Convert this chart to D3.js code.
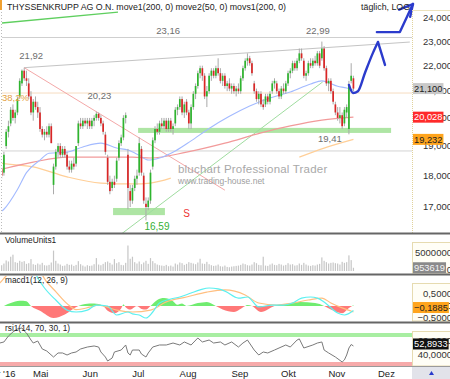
<!DOCTYPE html>
<html><head><meta charset="utf-8">
<script src="https://cdn.jsdelivr.net/npm/d3@7/dist/d3.min.js"></script>
<style>html,body{margin:0;padding:0;background:#fff;overflow:hidden}svg{display:block}</style>
</head><body><svg id="chart" width="450" height="379"></svg>
<script>
// ---------------- DATA ----------------
const title = "THYSSENKRUPP AG O.N. move1(200, 0) move2(50, 0) movs1(200, 0)";
const periodLabel = "täglich, LOG";
const monthNames = ["Apr '16","Mai","Jun","Jul","Aug","Sep","Okt","Nov","Dez"];
const priceTicks = [17,18,19,20,21,22,23,24];
const volumeTicks = [0,5];          // millions
const macdTicks = [-0.5,0,0.5];
const rsiTicks = [40,60];
const rsiLevels = [70,30];

// daily candles, first trading day 2016-04-04
const opens = [18.6,18.3,18.0,18.2,18.1,19.0,19.5,19.8,20.3,20.0,
20.2,20.8,21.3,21.8,21.5,21.3,20.8,20.2,20.6,20.4,
20.2,19.6,19.4,19.5,19.4,19.7,17.7,18.3,18.8,19.0,
18.7,18.9,18.7,18.3,18.2,18.4,18.4,19.1,19.8,19.7,
19.9,19.8,19.9,19.7,19.9,20.0,20.15,20.0,19.8,19.4,
18.6,17.8,17.6,17.8,17.9,18.6,19.1,19.3,20.0,18.7,
17.5,17.2,17.6,17.9,18.1,18.9,18.0,17.1,17.0,17.2,
18.3,19.2,19.6,19.5,19.8,19.7,19.9,19.6,19.9,19.6,
19.8,20.3,20.4,20.7,20.2,20.6,20.2,19.8,20.4,20.9,
21.2,21.7,21.9,21.6,20.8,21.0,21.6,21.8,21.6,21.9,
21.7,21.4,21.6,21.2,21.3,21.1,21.2,21.0,21.1,21.0,
21.5,21.9,22.2,22.3,22.1,21.3,21.0,20.7,20.9,20.5,
20.5,20.8,20.6,21.0,21.3,21.3,21.0,20.8,21.1,21.0,
21.3,21.7,21.8,22.1,21.9,22.2,22.5,22.2,21.6,21.7,
22.1,22.0,22.2,22.1,22.5,22.3,22.7,21.9,21.3,21.4,
21.0,20.5,20.2,20.0,20.1,19.8,20.2,19.6,21.4,21.5];
const highs = [18.8,18.4,18.3,18.3,18.8,19.6,19.9,20.4,20.5,20.3,
20.8,21.5,21.85,21.92,21.8,21.5,21.0,20.7,20.8,20.6,
20.4,19.7,19.6,19.7,19.8,19.8,18.4,18.9,19.1,19.1,
19.0,19.0,18.8,18.5,18.5,18.6,19.0,19.9,20.0,20.0,
20.0,20.0,20.0,20.0,20.1,20.23,20.2,20.1,19.9,19.5,
18.7,18.0,17.9,18.0,18.6,19.2,19.4,20.1,20.2,18.9,
17.7,17.7,18.0,18.2,19.3,19.0,18.1,17.3,17.3,18.2,
19.3,19.7,19.8,19.9,20.0,20.0,20.0,20.0,20.0,19.8,
20.4,20.5,20.8,20.8,20.6,20.7,20.3,20.5,21.0,21.3,
21.8,22.0,22.0,21.7,21.2,21.7,21.9,21.9,22.0,22.3,
21.9,21.7,21.7,21.4,21.5,21.3,21.3,21.2,21.3,21.6,
22.0,22.3,22.5,22.4,22.2,21.4,21.1,21.0,21.0,20.7,
20.9,20.9,21.0,21.4,21.5,21.4,21.1,21.2,21.3,21.4,
21.8,21.9,22.2,22.2,22.3,22.7,22.7,22.3,21.8,22.2,
22.3,22.3,22.4,22.6,22.6,22.99,22.8,22.0,21.5,21.5,
21.1,20.6,20.4,20.4,20.2,20.4,20.5,21.4,22.1,21.6];
const lows = [18.3,17.9,17.9,17.9,18.0,18.9,19.3,19.7,19.9,19.8,
20.1,20.7,21.2,21.4,21.2,20.7,20.1,19.9,20.3,20.0,
19.5,19.3,19.2,19.3,19.3,19.1,17.4,18.2,18.6,18.6,
18.6,18.6,18.2,18.1,18.1,18.2,18.3,19.0,19.6,19.6,
19.7,19.6,19.6,19.6,19.7,19.9,19.9,19.7,19.4,18.7,
17.7,17.4,17.5,17.6,17.8,18.5,19.0,19.2,19.8,16.93,
17.0,17.1,17.5,17.7,18.0,18.0,17.1,16.59,16.9,17.1,
18.2,19.1,19.4,19.4,19.6,19.6,19.5,19.5,19.5,19.4,
19.7,20.1,20.3,20.1,20.0,20.1,19.6,19.6,20.3,20.7,
21.1,21.5,21.4,20.7,20.4,20.9,21.4,21.5,21.5,21.6,
21.3,21.2,21.1,21.0,21.0,20.9,20.9,20.8,20.9,20.9,
21.4,21.8,22.0,22.0,21.6,20.9,20.6,20.5,20.4,20.3,
20.4,20.5,20.5,20.9,21.1,20.9,20.7,20.7,20.9,20.9,
21.2,21.5,21.7,21.8,21.8,22.1,22.2,21.5,21.4,21.6,
21.9,21.9,22.0,22.0,21.9,22.2,21.8,21.2,21.0,20.9,
20.5,20.1,19.9,19.8,19.6,19.7,20.0,19.41,21.3,21.0];
const closes = [18.4,18.0,18.2,18.0,18.7,19.5,19.7,20.3,20.0,20.2,
20.7,21.4,21.8,21.5,21.4,20.8,20.2,20.6,20.4,20.2,
19.6,19.4,19.5,19.4,19.7,19.1,18.3,18.8,19.0,18.7,
18.9,18.7,18.3,18.2,18.4,18.3,19.0,19.8,19.7,19.9,
19.8,19.9,19.7,19.9,20.0,20.15,20.0,19.8,19.5,18.8,
17.8,17.5,17.8,17.7,18.5,19.1,19.3,20.0,20.1,17.6,
17.2,17.6,17.9,18.0,19.1,18.1,17.2,17.0,17.2,18.1,
19.2,19.6,19.5,19.8,19.7,19.9,19.6,19.9,19.6,19.7,
20.3,20.4,20.7,20.2,20.5,20.2,19.8,20.4,20.9,21.2,
21.7,21.9,21.6,20.8,21.0,21.6,21.8,21.6,21.9,21.7,
21.4,21.6,21.2,21.3,21.1,21.2,21.0,21.1,21.0,21.5,
21.9,22.2,22.3,22.1,21.7,21.0,20.7,20.9,20.5,20.4,
20.8,20.6,20.9,21.3,21.4,21.0,20.8,21.1,21.0,21.3,
21.7,21.8,22.1,21.9,22.2,22.5,22.3,21.6,21.7,22.1,
22.0,22.2,22.1,22.5,22.0,22.7,21.9,21.3,21.4,21.0,
20.6,20.2,20.0,20.1,19.7,20.3,20.4,21.25,21.6,21.1];
// volume in millions of shares
const volumes = [2.0,1.6,1.4,1.7,2.2,3.1,2.8,4.2,4.8,2.6,
2.4,3.0,2.7,2.9,2.1,2.3,3.5,2.0,1.8,2.2,
1.9,2.4,1.7,1.6,1.8,2.5,6.0,3.0,2.2,1.9,
1.5,1.6,2.1,1.8,1.9,1.5,1.8,2.9,2.0,1.6,
1.3,1.7,1.5,1.6,2.0,3.8,1.9,1.7,2.1,2.6,
2.8,2.4,1.9,3.5,2.3,2.6,1.8,1.7,2.4,7.5,
3.6,4.2,2.6,2.2,2.8,2.0,2.5,3.0,2.1,3.8,
2.9,2.3,1.9,1.7,1.6,1.5,1.8,1.4,1.6,1.3,
2.2,1.9,2.5,2.3,1.8,2.1,2.6,2.4,2.2,2.0,
2.5,3.6,2.2,2.1,2.7,2.0,1.7,1.5,1.6,1.9,
1.4,1.3,1.6,1.2,1.1,1.3,1.4,1.5,1.6,1.8,
2.2,2.0,1.7,1.6,1.9,2.6,2.3,1.8,1.7,4.2,
1.6,1.5,1.9,2.2,1.8,1.7,2.1,1.9,1.6,1.8,
2.3,1.9,2.0,1.6,1.7,2.2,1.8,2.4,1.9,1.6,
1.5,1.7,1.6,1.9,2.1,4.0,3.0,2.6,2.2,2.4,
2.5,2.3,2.2,1.9,2.7,2.4,2.6,4.6,3.2,0.953619];

// moving averages [trading-day index, price]
const ma50 = [[0,16.75],[4,16.93],[10,17.55],[14,18.1],[20,18.52],[24,18.75],[32,18.79],[39,18.97],[47,19.1],[54,18.93],[59,18.86],[64,18.68],[68,18.52],[73,18.59],[80,18.83],[87,19.18],[95,19.62],[104,20.06],[113,20.44],[122,20.74],[131,20.97],[140,21.28],[145,21.4],[152,21.19],[156,21.12],[159,21.04]];
const ma200 = [[0,18.15],[2,18.19],[17,18.45],[32,18.62],[47,18.62],[61,18.62],[69,18.59],[85,18.79],[102,19.1],[118,19.46],[131,19.71],[145,19.92],[159,20.028]];
const movs200 = [[0,18.45],[2,18.42],[17,18.29],[32,17.96],[47,17.76],[61,17.73],[69,17.76],[78,17.92],[79,null],[134,null],[135,18.62],[146,18.93],[159,19.232]];

// indicators [trading-day index, value]
const macdLine = [[0,1.3],[4,1.45],[9,1.6],[13,1.75],[17,1.55],[19,1.17],[22,0.75],[27,0.25],[32,-0.17],[36,-0.25],[41,-0.17],[45,0.04],[50,0],[54,-0.375],[59,-0.25],[61,-0.33],[64,-0.375],[67,-0.5],[70,-0.25],[73,0.125],[78,0.29],[82,0.375],[87,0.54],[91,0.67],[95,0.75],[99,0.71],[102,0.62],[108,0.33],[112,0.375],[117,-0.04],[123,0.04],[128,0.04],[132,0.125],[136,0.33],[140,0.375],[143,0.33],[146,0.17],[152,-0.29],[155,-0.375],[159,-0.1885]];
const signalLine = [[0,0.85],[2,0.95],[5,1.25],[13,1.55],[19,1.5],[23,1.0],[27,0.6],[32,0.1],[36,-0.15],[42,-0.05],[46,0.04],[54,-0.17],[61,-0.25],[69,-0.17],[76,0.17],[85,0.375],[94,0.58],[102,0.67],[111,0.46],[117,0.125],[125,0.04],[132,0.125],[139,0.25],[145,0.33],[149,0.125],[154,-0.08],[159,-0.25]];
const macdHist = [[4,0],[7,0.12],[11,0.22],[14,0.2],[16,0],[20,-0.2],[26,-0.5],[31,-0.35],[37,0],[40,0.08],[44,0.1],[48,0],[50,-0.2],[53,-0.3],[56,-0.1],[57,0.06],[58,-0.05],[60,-0.15],[63,0],[65,-0.12],[67,-0.15],[69,0],[72,0.25],[75,0.33],[79,0.2],[81,0.05],[83,0.1],[85,0],[90,0.12],[94,0.17],[98,0],[101,-0.15],[106,-0.25],[111,0],[112,0.04],[114,0],[118,-0.25],[124,0],[129,0.08],[135,0.17],[142,0.12],[146,0],[149,-0.15],[154,-0.3],[157,-0.08],[159,0.03]];
const rsiLine = [[0,55],[2,57],[4,58.6],[6,67.1],[8,72.9],[10,77.1],[12,78.6],[13,74.3],[14,71.4],[16,61.4],[17,57.1],[19,60],[21,48.6],[23,45.7],[26,37.1],[28,42.9],[30,42.9],[32,40],[34,42.9],[36,44.3],[38,48.6],[41,51.4],[44,52.9],[46,51.4],[47,44.3],[49,37.1],[50,31.4],[52,35.7],[53,44.3],[56,47.1],[58,54.3],[59,42.9],[60,40],[61,47.1],[64,47.1],[65,41.4],[67,37.1],[68,42.9],[70,51.4],[73,54.3],[76,54.3],[79,57.1],[82,54.3],[84,58.6],[87,54.3],[90,64.3],[92,58.6],[95,61.4],[97,57.1],[100,58.6],[102,54.3],[105,58.6],[108,51.4],[110,57.1],[112,61.4],[115,47.1],[117,40],[119,44.3],[121,42.9],[124,47.1],[126,50],[129,54.3],[131,51.4],[134,61.4],[135,63],[137,50],[141,54.3],[143,57.1],[145,58.6],[146,47.1],[148,42.9],[151,37.1],[154,30],[155,33],[156,40],[157,50],[158,55],[159,52.8933]];

// drawing annotations [trading-day index, price]
const resistanceLevel = 23.16;
const fibLevel = 20.93;
const fibLabel = "38,2%";
const lowerLevel = 18.83;
const upperTrend = [[13,21.92],[184,22.97]];
const downTrend = [[13,21.92],[102,17.53]];
const upTrend = [[52.4,16.0],[145.4,21.36]];
const topTrend = [[3.1,23.78],[54.6,24.26]];
const supportZone = [[63.5,19.46],[175.7,19.64]];
const lowZone = [[52.4,16.75],[75.4,16.97]];
const sellSignal = [[85,16.8]];
const forecastCurve = [[157,21.24],[158.8,20.93],[161,21.0],[164.1,21.71],[167.7,22.53],[169.9,22.97]];
const forecastDrop = [[169.9,22.97],[173,22.03]];
const forecastArrow = [[169.4,23.39],[179.6,23.39],[185.4,24.62]];

// ---------------- DRAWING ----------------
const svg = d3.select("#chart").attr("font-family","'Liberation Sans', Arial, sans-serif");
const PR = 412;
const fmtC = (v,d) => d3.format("."+d+"f")(v).replace(".",",");

const x = d3.scaleLinear().domain([20,173]).range([40,385]);
const y = d3.scaleLog().domain([17,24]).range([207,18]);
const yV = d3.scaleLinear().domain([0,5]).range([271,254]);
const yM = d3.scaleLinear().domain([-0.5,0.5]).range([318,294]);
const yR = d3.scaleLinear().domain([30,70]).range([362,334]);

const defs = svg.append("defs");
function clip(id,x0,y0,x1,y1){defs.append("clipPath").attr("id",id).append("rect").attr("x",x0).attr("y",y0).attr("width",x1-x0).attr("height",y1-y0);return "url(#"+id+")";}
const cMain = clip("cm",2,0,PR,233);
const cVol = clip("cv",0,235,PR,273);
const cMacd = clip("cd",0,276,PR,321);
const cMacdPos = clip("cdp",0,276,PR,yM(0));
const cMacdNeg = clip("cdn",0,yM(0),PR,321);
const cRsi = clip("cr",0,324,PR,366);

// trading dates -> month starts
const days = [];
for (let d = new Date(2016,2,28), i=-5; d <= new Date(2016,11,31); d.setDate(d.getDate()+1)) {
  const wd = d.getDay(); if (wd===0||wd===6) continue;
  days.push({i:i, m:d.getMonth()}); i++;
}
const monthStarts = [];
days.forEach((d,k)=>{ if (k>0 && d.m!==days[k-1].m) monthStarts.push(d); });
const monthTicks = monthStarts.filter(d=>d.m>=3 && d.m<=11).map((d,k)=>({i:d.i, t:monthNames[k]}));

// ---- main panel ----
const gM = svg.append("g").attr("clip-path",cMain);
svg.append("line").attr("x1",1.5).attr("x2",1.5).attr("y1",12).attr("y2",233).attr("stroke","#bbb").attr("stroke-dasharray","1,2");
[[supportZone,"#aee5a4"],[lowZone,"#aee5a4"]].forEach(([z,c])=>{
  gM.append("rect").attr("x",x(z[0][0])).attr("width",x(z[1][0])-x(z[0][0]))
    .attr("y",y(z[1][1])).attr("height",y(z[0][1])-y(z[1][1])).attr("fill",c);
});
[[resistanceLevel,"#cfcfcf"],[fibLevel,"#f6dcc0"],[lowerLevel,"#d4d4d4"]].forEach(([v,c])=>{
  gM.append("line").attr("x1",0).attr("x2",PR).attr("y1",y(v)).attr("y2",y(v)).attr("stroke",c).attr("stroke-width",1);
});
const lineP = d3.line().x(d=>x(d[0])).y(d=>y(d[1]));
[[upperTrend,"#c4c4c4",1],[downTrend,"#f4a8a8",1],[upTrend,"#9fdc9f",1],[topTrend,"#5fcf5f",1.4]].forEach(([p,c,w])=>{
  gM.append("path").attr("d",lineP(p)).attr("fill","none").attr("stroke",c).attr("stroke-width",w);
});
const maLine = d3.line().defined(d=>d[1]!=null).x(d=>x(d[0])).y(d=>y(d[1])).curve(d3.curveMonotoneX);
[[movs200,"#ffcf98",1.2],[ma200,"#f29a9a",1.2],[ma50,"#a3baff",1.1]].forEach(([p,c,w])=>{
  gM.append("path").attr("d",maLine(p)).attr("fill","none").attr("stroke",c).attr("stroke-width",w);
});
// watermark
svg.append("text").attr("x",178).attr("y",173).attr("font-size",11.5).attr("fill","#a9a9a9").attr("letter-spacing",0.2).text("bluchart Professional Trader");
svg.append("text").attr("x",178).attr("y",184).attr("font-size",8.5).attr("fill","#a0a0a0").text("www.trading-house.net");
// candles
const cg = gM.append("g");
closes.forEach((c,i)=>{
  const o=opens[i], h=highs[i], l=lows[i], cx=x(i);
  cg.append("line").attr("x1",cx).attr("x2",cx).attr("y1",y(h)).attr("y2",y(l)).attr("stroke","#aaa").attr("stroke-width",1);
  const top=y(Math.max(o,c)), bot=y(Math.min(o,c));
  cg.append("rect").attr("x",cx-0.85).attr("width",1.7).attr("y",top).attr("height",Math.max(1,bot-top))
    .attr("fill", c>=o ? "#2fb52f" : "#d92626");
});
// price labels
function lab(t,xx,yy,c,fs,anchor){svg.append("text").attr("x",xx).attr("y",yy).attr("font-size",fs||9.5).attr("fill",c||"#6e6e6e").attr("text-anchor",anchor||"middle").text(t);}
lab(fmtC(highs[13],2), x(13)+7, y(highs[13])-9);
lab(fmtC(highs[45],2), x(45)+3, y(highs[45])-12.5);
lab(fmtC(resistanceLevel,2), x(76.8), y(resistanceLevel)-3.5);
lab(fmtC(highs[145],2), x(145)-4, y(highs[145])-7.5);
lab(fmtC(lows[67],2), x(67)+11, y(lows[67])+9.6, "#35b035", 10);
lab(fmtC(lows[157],2), x(157)-19, y(lows[157])+8);
lab("S", x(sellSignal[0][0]), y(sellSignal[0][1])+4, "#ee3333", 10);
lab(fibLabel, 2, y(fibLevel)+8, "#e4a040", 9.5, "start");
// forecast drawing
const fc = svg.append("g").attr("fill","none").attr("stroke","#2b3bcc").attr("stroke-width",2.4).attr("stroke-linecap","round").attr("stroke-linejoin","round");
fc.append("path").attr("d", d3.line().x(d=>x(d[0])).y(d=>y(d[1])).curve(d3.curveMonotoneX)(forecastCurve));
fc.append("path").attr("d", lineP(forecastDrop));
fc.append("path").attr("d", lineP(forecastArrow));
(function(){
  const a=forecastArrow, p1=[x(a[1][0]),y(a[1][1])], p2=[x(a[2][0]),y(a[2][1])];
  const ang=Math.atan2(p1[1]-p2[1],p1[0]-p2[0]);
  [[0.75,15],[-0.22,13]].forEach(([da,len])=>{
    fc.append("line").attr("x1",p2[0]).attr("y1",p2[1]).attr("x2",p2[0]+len*Math.cos(ang+da)).attr("y2",p2[1]+len*Math.sin(ang+da));
  });
})();
// title
svg.append("rect").attr("x",0).attr("y",0).attr("width",2).attr("height",10).attr("fill","#f0a030");
svg.append("text").attr("x",7).attr("y",9.5).attr("font-size",8.8).attr("fill","#222").text(title);
svg.append("text").attr("x",410).attr("y",9.5).attr("font-size",8.8).attr("fill","#222").attr("text-anchor","end").text(periodLabel);

// main right axis
svg.append("line").attr("x1",PR+0.5).attr("x2",PR+0.5).attr("y1",10).attr("y2",233).attr("stroke","#e0d29c").attr("stroke-dasharray","1,1");
svg.append("line").attr("x1",PR).attr("x2",450).attr("y1",10.5).attr("y2",10.5).attr("stroke","#ece2bc");
priceTicks.forEach(v=>lab(fmtC(v,3),452,y(v)+3.3,"#333",9.5,"end"));

// ---- volume ----
const gV = svg.append("g").attr("clip-path",cVol);
volumes.forEach((v,i)=>{
  gV.append("rect").attr("x",x(i)-0.6).attr("width",1.2).attr("y",yV(v)).attr("height",yV(0)-yV(v)).attr("fill","#c6c6c6");
});
lab("VolumeUnits1",5,243,"#222",8.3,"start");

// ---- macd ----
const gD = svg.append("g").attr("clip-path",cMacd);
const histArea = d3.area().x(d=>x(d[0])).y0(yM(0)).y1(d=>yM(d[1])).curve(d3.curveMonotoneX);
gD.append("path").attr("d",histArea(macdHist)).attr("fill","#70ec70").attr("clip-path",cMacdPos);
gD.append("path").attr("d",histArea(macdHist)).attr("fill","#ff7878").attr("clip-path",cMacdNeg);
const lM = d3.line().x(d=>x(d[0])).y(d=>yM(d[1])).curve(d3.curveMonotoneX);
gD.append("path").attr("d",lM(signalLine)).attr("fill","none").attr("stroke","#ffbf80").attr("stroke-width",1.2);
gD.append("path").attr("d",lM(macdLine)).attr("fill","none").attr("stroke","#5cf0f0").attr("stroke-width",1.2);
lab("macd1(12, 26, 9)",5,283,"#222",8.3,"start");

// ---- rsi ----
const gR = svg.append("g").attr("clip-path",cRsi);
gR.append("rect").attr("x",0).attr("width",PR).attr("y",yR(rsiLevels[0])-1).attr("height",4).attr("fill","#a8eea2");
gR.append("rect").attr("x",0).attr("width",PR).attr("y",yR(rsiLevels[1])).attr("height",4).attr("fill","#f7aaaa");
gR.append("path").attr("d",d3.line().x(d=>x(d[0])).y(d=>yR(d[1]))(rsiLine)).attr("fill","none").attr("stroke","#7a7a7a").attr("stroke-width",1);
lab("rsi1(14, 70, 30, 1)",5,331,"#222",8.3,"start");

// lower panel right areas
[[234,273],[275,321],[323,366]].forEach(([t,b])=>{
  svg.append("rect").attr("x",PR+0.5).attr("y",t+8.5).attr("width",40).attr("height",b-t-8.5).attr("fill","#fffef6").attr("stroke","#e6dbb0");
});
volumeTicks.forEach(v=>lab(v===0?"0":String(v*1e6),452,yV(v)+2,"#333",9.5,"end"));
macdTicks.forEach(v=>lab(v===0?"0":fmtC(v,4),452,yM(v)+3.3,"#333",9.5,"end"));
rsiTicks.forEach(v=>lab(fmtC(v,4),452,yR(v)+3.3,"#333",9.5,"end"));

// separators
[232.5,273.5,321.5].forEach(v=>svg.append("rect").attr("x",0).attr("y",v).attr("width",450).attr("height",2).attr("fill","#666"));
svg.append("line").attr("x1",0).attr("x2",450).attr("y1",366.5).attr("y2",366.5).attr("stroke","#9a9a9a");

// value boxes
function vbox(yc,text,fill,color){
  const g=svg.append("g");
  const t=g.append("text").attr("x",414).attr("y",yc+3.3).attr("font-size",9.3).attr("fill",color).text(text);
  const w=t.node().getComputedTextLength();
  g.insert("rect","text").attr("x",413).attr("y",yc-5.5).attr("width",w+2).attr("height",11).attr("fill",fill);
}
const last = closes.length-1;
vbox(y(closes[last]), fmtC(closes[last],3), "#c9c9c9", "#222");
vbox(y(ma200[ma200.length-1][1]), fmtC(ma200[ma200.length-1][1],3), "#ff2a2a", "#fff");
vbox(y(movs200[movs200.length-1][1]), fmtC(movs200[movs200.length-1][1],3), "#ffa41c", "#222");
vbox(yV(volumes[last]), String(Math.round(volumes[last]*1e6)), "#8a8a8a", "#f4f4f4");
vbox(yM(macdLine[macdLine.length-1][1])-3, fmtC(macdLine[macdLine.length-1][1],4), "#ffa41c", "#222");
vbox(yR(rsiLine[rsiLine.length-1][1])-2, fmtC(rsiLine[rsiLine.length-1][1],4), "#111", "#fff");

// x axis
monthTicks.forEach(m=>lab(m.t, x(m.i)-7, 377, "#222", 9.5, "start"));
svg.append("rect").attr("x",PR).attr("y",367).attr("width",38).attr("height",12).attr("fill","#e2e3ea");
svg.append("path").attr("d","M429,375 L431.5,371 L434,375 Z").attr("fill","#2a3bcc");
</script></body></html>
